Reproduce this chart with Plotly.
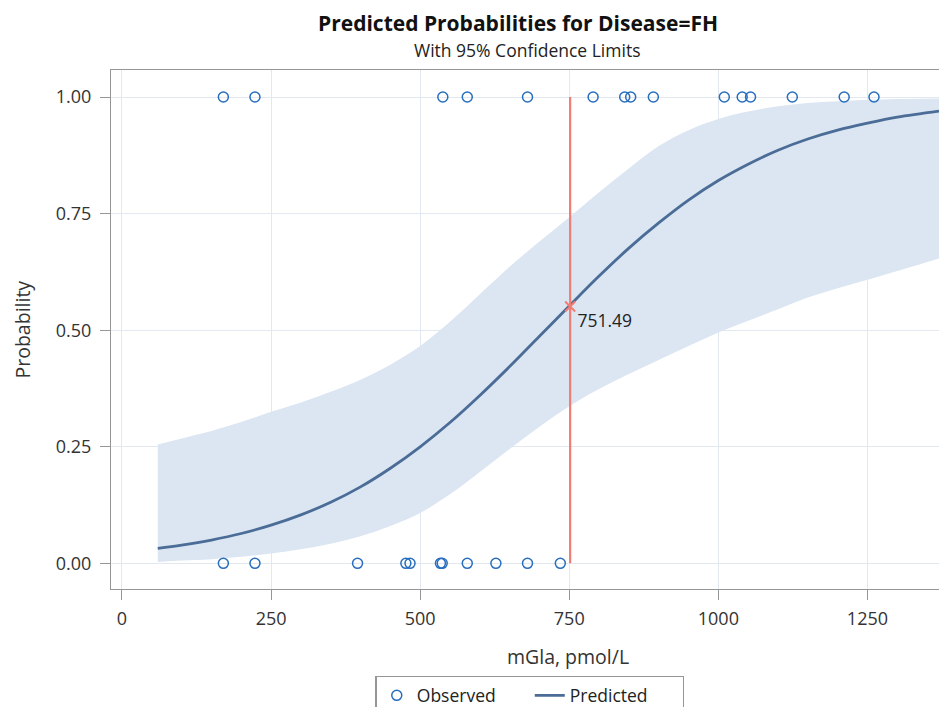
import plotly.graph_objects as go

# ---- data ----
obs_x_event = [170, 223, 538, 579, 680, 790, 843, 853, 891, 1010, 1040, 1054, 1124, 1211, 1261]
obs_x_nonevent = [170, 223, 395, 476, 483, 534, 537, 579, 627, 680, 735]

grid_x = [60, 100, 150, 200, 250, 300, 350, 400, 450, 500, 550, 600, 650, 700,
          750, 800, 850, 900, 950, 1000, 1050, 1100, 1150, 1200, 1250, 1300, 1370]
pred_p = [0.032, 0.039, 0.050, 0.064, 0.082, 0.104, 0.131, 0.164, 0.204, 0.250,
          0.302, 0.360, 0.422, 0.487, 0.552, 0.616, 0.676, 0.730, 0.779, 0.821,
          0.856, 0.886, 0.910, 0.929, 0.944, 0.957, 0.970]
upper_p = [0.255, 0.268, 0.284, 0.303, 0.325, 0.345, 0.368, 0.394, 0.426, 0.466,
           0.518, 0.577, 0.636, 0.690, 0.742, 0.796, 0.847, 0.895, 0.929, 0.953,
           0.969, 0.980, 0.987, 0.991, 0.994, 0.996, 0.997]
lower_p = [0.003, 0.006, 0.009, 0.014, 0.021, 0.030, 0.042, 0.058, 0.080, 0.108,
           0.148, 0.196, 0.245, 0.293, 0.337, 0.374, 0.406, 0.436, 0.466, 0.495,
           0.520, 0.545, 0.570, 0.590, 0.608, 0.627, 0.654]

cutoff_x = 751.49
cutoff_p = 0.551
cutoff_label = "751.49"

x_ticks = [0, 250, 500, 750, 1000, 1250]
y_ticks = [0.0, 0.25, 0.5, 0.75, 1.0]

BAND = "rgb(219,230,242)"
LINE = "rgb(74,108,150)"
MARK = "rgb(40,110,190)"
RED = "rgb(240,125,115)"
AXC = "rgb(150,150,150)"
FONT = "Open Sans"

fig = go.Figure()

# confidence band
fig.add_trace(go.Scatter(x=grid_x, y=upper_p, mode="lines",
                         line=dict(width=0, color=BAND, shape="spline"),
                         showlegend=False, hoverinfo="skip"))
fig.add_trace(go.Scatter(x=grid_x, y=lower_p, mode="lines",
                         line=dict(width=0, color=BAND, shape="spline"),
                         fill="tonexty", fillcolor=BAND, showlegend=False, hoverinfo="skip"))

# observed
fig.add_trace(go.Scatter(x=obs_x_event + obs_x_nonevent,
                         y=[1.0] * len(obs_x_event) + [0.0] * len(obs_x_nonevent),
                         mode="markers", name="Observed",
                         marker=dict(symbol="circle-open", size=10, color=MARK,
                                     line=dict(width=1.5, color=MARK))))

# predicted
fig.add_trace(go.Scatter(x=grid_x, y=pred_p, mode="lines", name="Predicted",
                         line=dict(color=LINE, width=2.8, shape="spline")))

# cutoff line and marker
fig.add_trace(go.Scatter(x=[cutoff_x, cutoff_x], y=[0.0, 1.0], mode="lines",
                         line=dict(color=RED, width=2.2), showlegend=False, hoverinfo="skip"))
fig.add_trace(go.Scatter(x=[cutoff_x], y=[cutoff_p], mode="markers+text", text=[cutoff_label],
                         textposition="bottom right",
                         textfont=dict(size=17.5, color="#222", family=FONT),
                         marker=dict(symbol="x-thin", size=10, color=RED, line=dict(width=2, color=RED)),
                         showlegend=False, hoverinfo="skip"))

axis_common = dict(
    showgrid=True, gridcolor="rgb(226,232,239)", gridwidth=1,
    showline=True, linecolor=AXC, linewidth=1.3,
    ticks="outside", ticklen=10, tickcolor=AXC, tickwidth=1.3,
    tickfont=dict(size=18, color="#333", family=FONT),
    zeroline=False,
)

fig.update_layout(
    width=939, height=707,
    margin=dict(l=111, r=0, t=70, b=118, autoexpand=False),
    paper_bgcolor="white", plot_bgcolor="white",
    font=dict(family=FONT, color="#222"),
    xaxis=dict(axis_common, range=[-18.4, 1370], tickvals=x_ticks, mirror=True,
               ticklabelstandoff=3),
    yaxis=dict(axis_common, range=[-0.055, 1.058], tickvals=y_ticks, tickformat=".2f",
               ticklabelstandoff=5),
    legend=dict(orientation="h", x=0.506, xanchor="center", y=-0.168, yanchor="top",
                traceorder="normal", entrywidth=108, entrywidthmode="pixels",
                bordercolor=AXC, borderwidth=1.3,
                font=dict(size=17.5, family=FONT, color="#222")),
    annotations=[
        dict(text="<b>Predicted Probabilities for Disease=FH</b>", xref="paper", yref="paper",
             x=0.492, y=1, xanchor="center", yanchor="middle", yshift=47, showarrow=False,
             font=dict(size=21, family=FONT, color="#111")),
        dict(text="With 95% Confidence Limits", xref="paper", yref="paper",
             x=0.502, y=1, xanchor="center", yanchor="middle", yshift=20, showarrow=False,
             font=dict(size=17.5, family=FONT, color="#222")),
        dict(text="mGla, pmol/L", xref="paper", yref="paper",
             x=0.552, y=0, xanchor="center", yanchor="middle", yshift=-67, showarrow=False,
             font=dict(size=19.5, family=FONT, color="#333")),
        dict(text="Probability", xref="paper", yref="paper", textangle=-90,
             x=0, y=0.5, xanchor="center", yanchor="middle", xshift=-89, yshift=0, showarrow=False,
             font=dict(size=19.5, family=FONT, color="#333")),
    ],
)

fig.write_html("out.html")
